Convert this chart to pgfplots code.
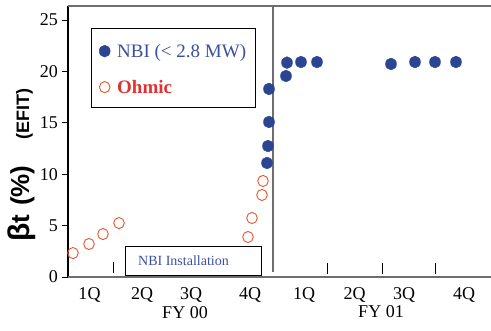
\documentclass[border=0pt]{standalone}
\usepackage{fontspec}
\setmainfont{Liberation Serif}
\setsansfont{Liberation Sans}
\usepackage{pgfplots}
\pgfplotsset{compat=1.18}
\definecolor{nbiblue}{HTML}{2B4593}
\definecolor{ohmred}{HTML}{E8562E}
\definecolor{textblue}{HTML}{3B4FA0}
\definecolor{textred}{HTML}{E03030}
\definecolor{linegray}{HTML}{6E6E6E}
\begin{document}
\begin{tikzpicture}
\useasboundingbox (-68bp,-54bp) rectangle (423bp,277bp);
\begin{axis}[
  at={(0,0)}, anchor=south west,
  scale only axis, width=423bp, height=271bp,
  xmin=68, xmax=491, ymin=0, ymax=26.36,
  axis line style={draw=none},
  clip=false,
  ytick={0,5,10,15,20,25},
  xtick={89.5,142,191,250,304,354.5,404,464},
  xticklabels={1Q,2Q,3Q,4Q,1Q,2Q,3Q,4Q},
  xtick pos=bottom, ytick pos=left,
  xtick style={draw=none},
  ytick style={draw=black, line width=0.8bp},
  tick align=outside,
  major tick length=6bp,
  tick label style={font=\fontsize{18bp}{20bp}\selectfont},
  /pgf/number format/assume math mode=true,
  xticklabel style={anchor=north, inner sep=0pt, yshift=-4bp},
  yticklabel style={anchor=east, inner sep=0pt, xshift=-4bp},
  legend style={at={(axis cs:99,22.67)}, anchor=north west, draw=none, fill=none,
    inner sep=0pt, row sep=19bp,
    nodes={inner sep=0pt, text height=13bp, text depth=4bp, anchor=base west},
    font=\fontsize{19bp}{21bp}\selectfont,
    /tikz/every odd column/.style={column sep=7bp}},
  legend cell align=left,
  legend image code/.code={\draw[#1] plot coordinates {(0bp,6bp)};},
]
\addplot[only marks, mark=*, mark size=5.5bp, color=nbiblue, mark options={yscale=1.08, fill=nbiblue, draw=nbiblue}]
  coordinates {(267,11.09) (268,12.74) (269,15.08) (269,18.29) (286,19.55) (287,20.85)
               (301,20.91) (317,20.91) (391,20.72) (415,20.91) (435,20.91) (456,20.91)};
\addlegendentry{\textcolor{textblue}{NBI (< 2.8 MW)}}
\addplot[only marks, mark=o, mark size=5.3bp, color=ohmred, mark options={line width=0.9bp, yscale=1.05}]
  coordinates {(73,2.33) (89,3.21) (103,4.18) (119,5.25) (248,3.89) (252,5.74) (262,7.98) (263,9.34)};
\addlegendentry{\textcolor{textred}{\bfseries Ohmic}}
% frame
\draw[black, line width=1.1bp] (rel axis cs:0,0) -- (rel axis cs:0,1);
\draw[linegray, line width=1.3bp] (rel axis cs:0,0) -- (rel axis cs:1,0);
\draw[linegray, line width=1.3bp] (rel axis cs:0,1) -- (rel axis cs:1,1);
% NBI start line
\draw[linegray, line width=1.5bp] (axis cs:273,26.36) -- (axis cs:273,0.49);
% small ticks
\draw[black, line width=0.8bp] (axis cs:113,1.46) -- (axis cs:113,0.39);
\draw[black, line width=0.8bp] (axis cs:327,1.36) -- (axis cs:327,0.29);
\draw[black, line width=0.8bp] (axis cs:382,1.36) -- (axis cs:382,0.29);
\draw[black, line width=0.8bp] (axis cs:435,1.36) -- (axis cs:435,0.29);
% legend box
\draw[black, line width=0.9bp] (axis cs:91,24.22) rectangle (axis cs:255,16.54);
% NBI installation box
\draw[black, line width=0.9bp] (axis cs:125,3.02) rectangle (axis cs:261,0.19);
\node[text=textblue, font=\fontsize{14bp}{15bp}\selectfont, inner sep=0pt] at (axis cs:183.5,1.56) {NBI Installation};
\end{axis}
\node[font=\fontsize{18bp}{20bp}\selectfont, inner sep=0pt] at (117bp,-36bp) {FY 00};
\node[font=\fontsize{18bp}{20bp}\selectfont, inner sep=0pt] at (313bp,-35bp) {FY 01};
\node[rotate=90, anchor=base west, inner sep=0pt, font=\sffamily\bfseries\fontsize{26bp}{28bp}\selectfont] at (-39bp,35bp) {{\fontsize{30bp}{30bp}\selectfont β}t\hspace{9bp}(\%)};
\node[rotate=90, anchor=base west, inner sep=0pt, font=\sffamily\bfseries\fontsize{18bp}{20bp}\selectfont] at (-39bp,137bp) {(EFIT)};
\end{tikzpicture}
\end{document}
